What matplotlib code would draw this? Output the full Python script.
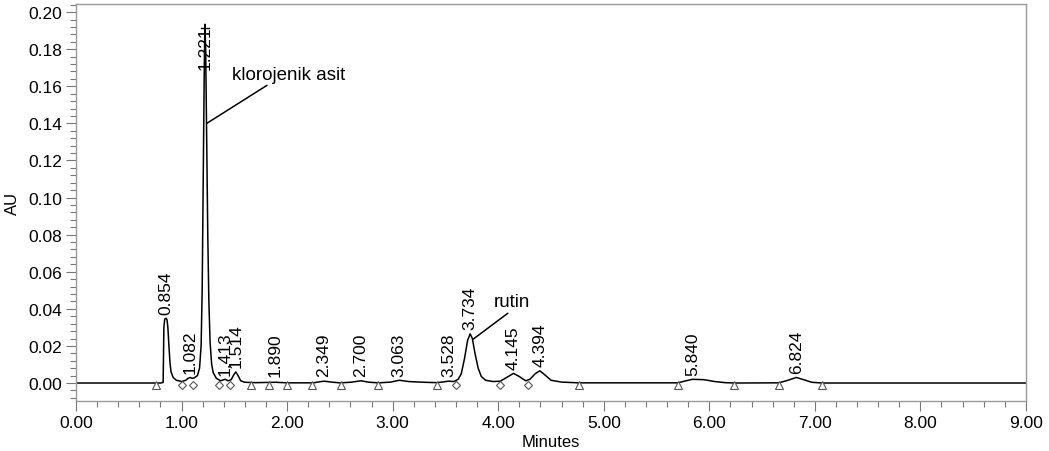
import matplotlib
matplotlib.use("Agg")
import matplotlib.pyplot as plt
from matplotlib.ticker import MultipleLocator

plt.rcParams['font.family'] = ['Liberation Sans', 'DejaVu Sans']

# detector trace (minutes, AU)
trace_t = [0.00, 0.80, 0.825, 0.828, 0.832, 0.840, 0.854, 0.862, 0.870, 0.880,
           0.890, 0.900, 0.920, 0.950, 1.000, 1.040, 1.060, 1.082, 1.100, 1.120,
           1.150, 1.170, 1.185, 1.195, 1.205, 1.215, 1.221, 1.228, 1.238, 1.248,
           1.258, 1.270, 1.285, 1.300, 1.330, 1.370, 1.400, 1.413, 1.440, 1.470,
           1.495, 1.514, 1.535, 1.560, 1.600, 1.700, 1.890, 2.000, 2.250, 2.300,
           2.349, 2.420, 2.500, 2.600, 2.700, 2.780, 2.870, 2.980, 3.063, 3.150,
           3.300, 3.420, 3.480, 3.528, 3.580, 3.620, 3.650, 3.680, 3.710, 3.734,
           3.755, 3.780, 3.810, 3.840, 3.880, 3.950, 4.020, 4.080, 4.145, 4.200,
           4.260, 4.300, 4.350, 4.394, 4.440, 4.500, 4.600, 4.760, 5.700, 5.780,
           5.840, 5.950, 6.050, 6.150, 6.240, 6.660, 6.740, 6.824, 6.900, 6.970,
           7.070, 9.000]
trace_au = [0.0, 0.0, 0.0003, 0.012, 0.030, 0.0345, 0.0349, 0.034, 0.030, 0.020,
            0.011, 0.006, 0.003, 0.0015, 0.0008, 0.0015, 0.0025, 0.0030, 0.0025, 0.0028,
            0.0040, 0.0080, 0.020, 0.050, 0.110, 0.170, 0.1935, 0.180, 0.130, 0.080,
            0.045, 0.022, 0.010, 0.0055, 0.0025, 0.0012, 0.0018, 0.0020, 0.0012, 0.0018,
            0.0045, 0.0060, 0.0040, 0.0012, 0.0004, 0.0002, 0.0004, 0.0001, 0.0001, 0.0006,
            0.0010, 0.0005, 0.0001, 0.0004, 0.0012, 0.0004, 0.0001, 0.0005, 0.0015, 0.0008,
            0.0004, 0.0002, 0.0006, 0.0010, 0.0008, 0.0020, 0.0050, 0.013, 0.023, 0.0265,
            0.024, 0.016, 0.008, 0.0035, 0.0015, 0.0008, 0.0010, 0.0030, 0.0052, 0.0035,
            0.0012, 0.0020, 0.0050, 0.0066, 0.0045, 0.0015, 0.0005, 0.0001, 0.0001, 0.0012,
            0.0020, 0.0018, 0.0008, 0.0002, 0.0, 0.0001, 0.0014, 0.0030, 0.0017, 0.0004,
            0.0, 0.0]

# labelled peaks
peak_rt = [0.854, 1.082, 1.221, 1.413, 1.514, 1.890, 2.349, 2.700, 3.063,
           3.528, 3.734, 4.145, 4.394, 5.840, 6.824]
peak_label = ["0.854", "1.082", "1.221", "1.413", "1.514", "1.890", "2.349", "2.700",
              "3.063", "3.528", "3.734", "4.145", "4.394", "5.840", "6.824"]
peak_h = [0.0349, 0.0030, 0.1935, 0.0020, 0.0060, 0.0004, 0.0010, 0.0012, 0.0015,
          0.0010, 0.0265, 0.0052, 0.0066, 0.0020, 0.0030]

# integration start/stop marks
baseline_pts = [0.758, 1.658, 1.828, 1.996, 2.239, 2.507, 2.864, 3.423,
                4.765, 5.700, 6.236, 6.660, 7.067]
drop_pts = [1.004, 1.111, 1.355, 1.456, 3.603, 4.017, 4.282]

fig = plt.figure(figsize=(10.49, 4.52), dpi=100)
ax = fig.add_axes([0.0725, 0.1106, 0.9055, 0.878])

ax.plot(trace_t, trace_au, color='black', lw=1.1)
ax.plot(baseline_pts, [-0.0013] * len(baseline_pts), ls='none', marker='^',
        ms=6, mfc='white', mec='#555555', mew=0.8)
ax.plot(drop_pts, [-0.0013] * len(drop_pts), ls='none', marker='D',
        ms=4.5, mfc='white', mec='#555555', mew=0.8)

for rt, lab, h in zip(peak_rt, peak_label, peak_h):
    if h > 0.15:
        ax.text(rt, h - 0.0008, lab, rotation=90, ha='center', va='top', fontsize=12.5)
        ax.plot([rt - 0.04, rt + 0.04], [0.1915, 0.1915], color='black', lw=1)
    else:
        ax.text(rt, max(h, 0.0012) + 0.0025, lab, rotation=90, ha='center',
                va='bottom', fontsize=12.5)

ax.annotate("klorojenik asit", xy=(1.238, 0.140), xytext=(1.475, 0.1666),
            fontsize=13.5, va='center', ha='left',
            arrowprops=dict(arrowstyle='-', color='black', lw=1.1,
                            shrinkA=0, shrinkB=0, relpos=(0.35, 0.0)))
ax.annotate("rutin", xy=(3.764, 0.0237), xytext=(3.954, 0.0437),
            fontsize=13.5, va='center', ha='left',
            arrowprops=dict(arrowstyle='-', color='black', lw=1.1,
                            shrinkA=0, shrinkB=0, relpos=(0.5, 0.0)))

ax.set_xlim(0, 9)
ax.set_ylim(-0.0097, 0.2043)
ax.xaxis.set_major_locator(MultipleLocator(1))
ax.xaxis.set_minor_locator(MultipleLocator(0.2))
ax.yaxis.set_major_locator(MultipleLocator(0.02))
ax.yaxis.set_minor_locator(MultipleLocator(0.004))
ax.xaxis.set_major_formatter(lambda v, p: f"{v:.2f}")
ax.yaxis.set_major_formatter(lambda v, p: f"{v:.2f}")
ax.tick_params(which='major', length=7, width=0.8, color='#777777', labelsize=12.5, pad=3)
ax.tick_params(which='minor', length=4, width=0.8, color='#777777')
ax.set_xlabel("Minutes", fontsize=12, labelpad=3)
ax.set_ylabel("AU", fontsize=12, labelpad=6)
for s in ax.spines.values():
    s.set_color('#999999')
    s.set_linewidth(1)

fig.savefig("out.png", dpi=100)
